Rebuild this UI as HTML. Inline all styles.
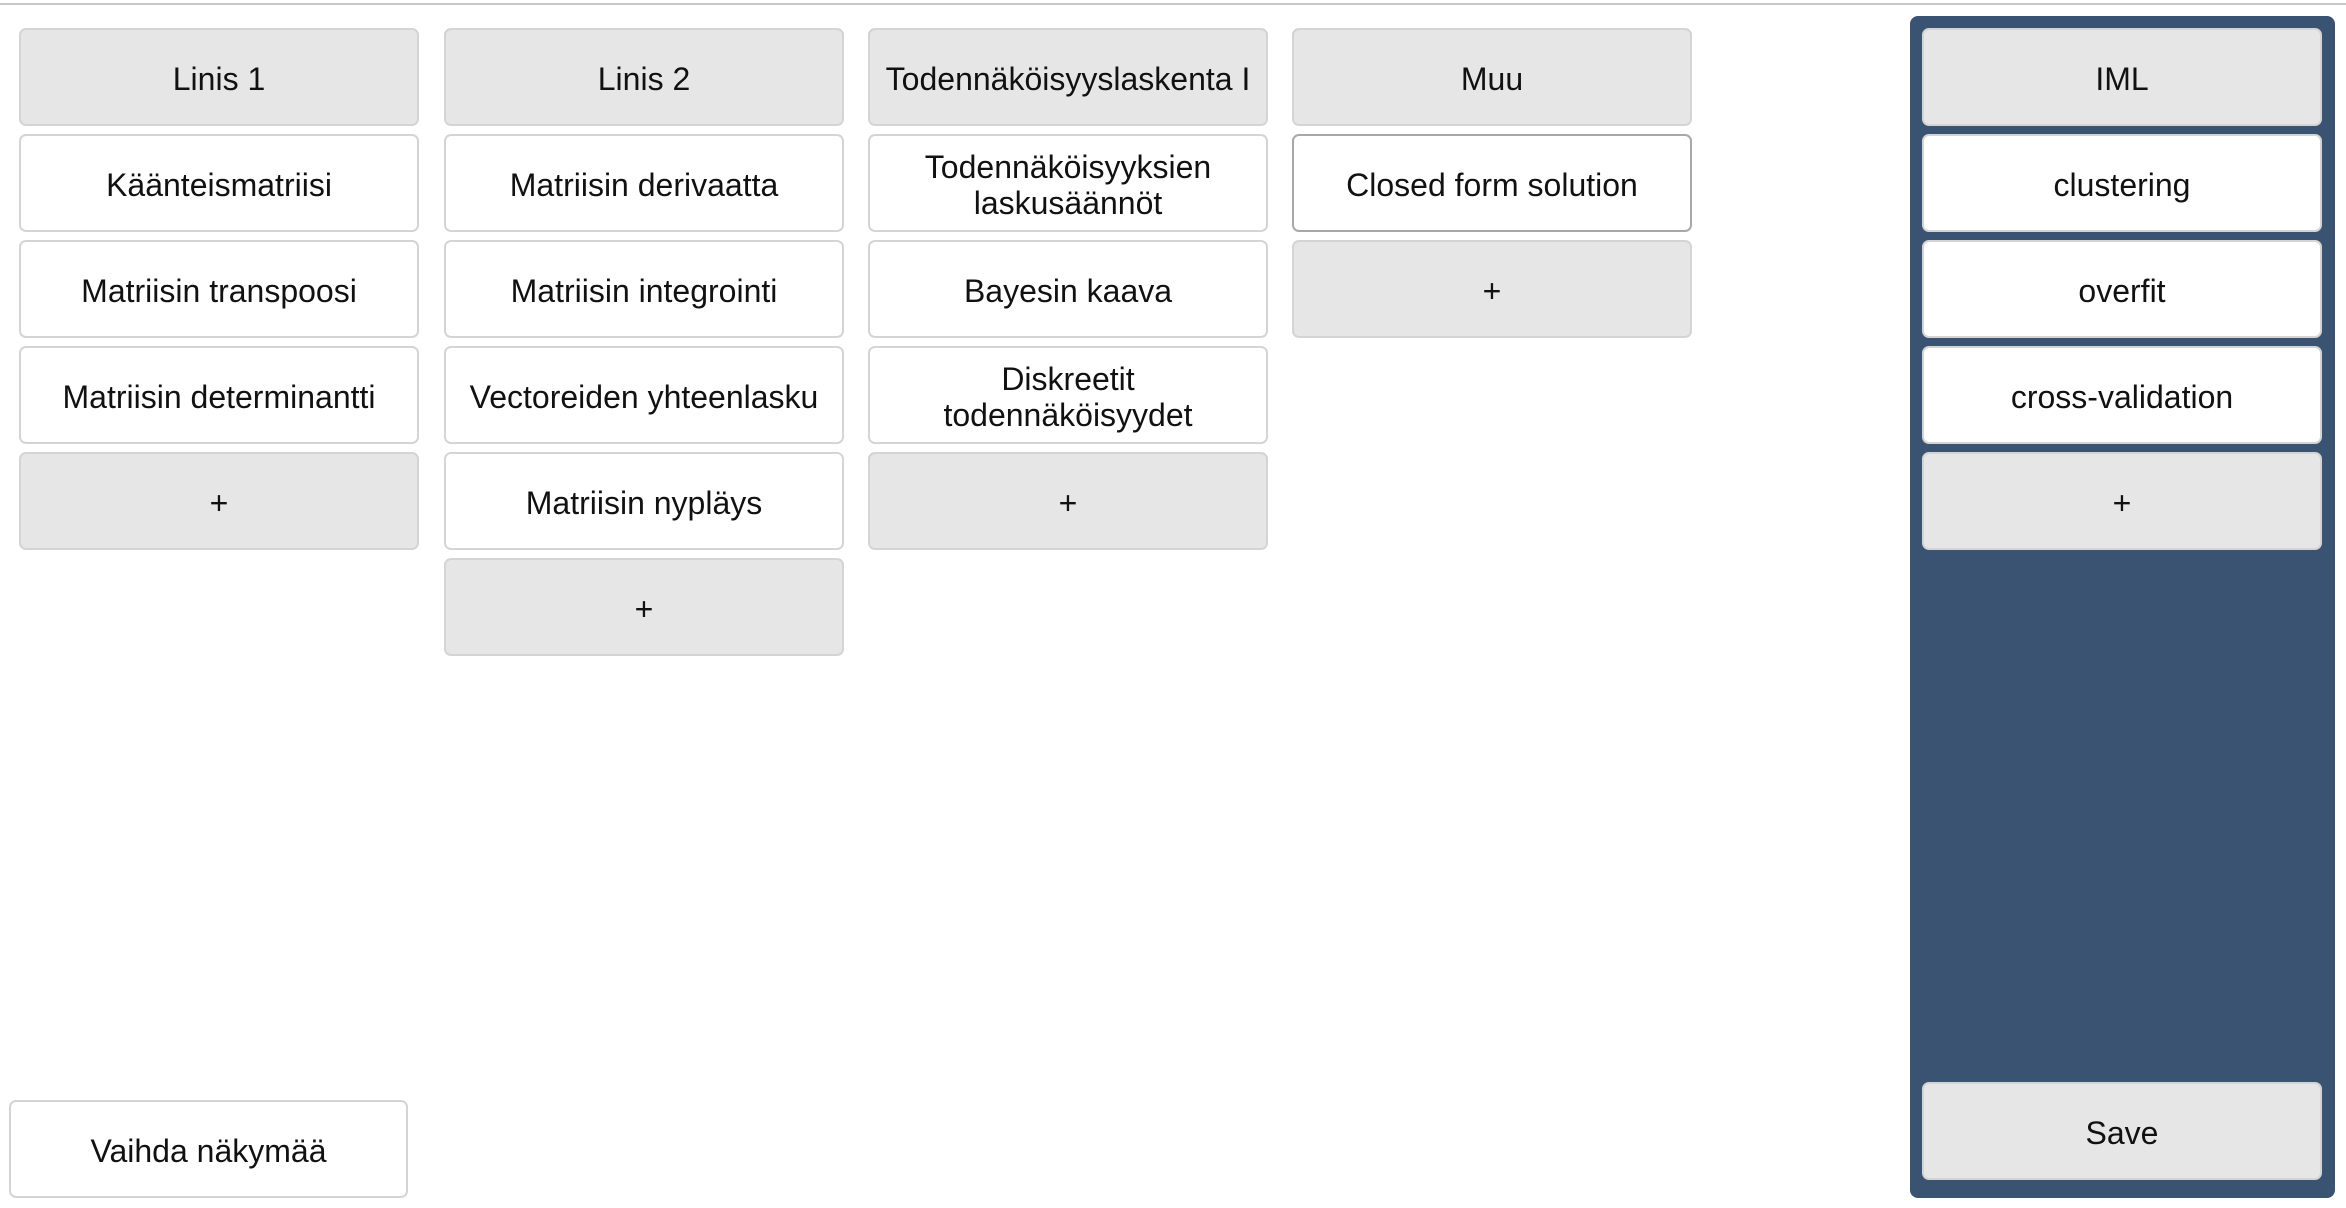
<!DOCTYPE html>
<html><head><meta charset="utf-8"><style>
*{box-sizing:border-box;margin:0;padding:0}
body{width:2346px;height:1208px;background:#fff;position:relative;overflow:hidden;font-family:"Liberation Sans",sans-serif;}
.line{position:absolute;left:0;top:3px;width:2346px;height:2px;background:#c8c8c8}
.b{position:absolute;width:400px;height:98px;border:2px solid #d4d4d4;border-radius:7px;background:#fff;display:flex;align-items:center;justify-content:center;text-align:center;font-size:32px;color:#111;line-height:1.12;padding-top:6px}
.g{background:#e6e6e6}
.panel{position:absolute;left:1910px;top:16px;width:425px;height:1182px;background:#3a5372;border-radius:8px}
</style></head><body>
<div class="line"></div>
<div class="b g" style="left:19px;top:28px">Linis 1</div>
<div class="b" style="left:19px;top:134px">Käänteismatriisi</div>
<div class="b" style="left:19px;top:240px">Matriisin transpoosi</div>
<div class="b" style="left:19px;top:346px">Matriisin determinantti</div>
<div class="b g" style="left:19px;top:452px">+</div>

<div class="b g" style="left:444px;top:28px">Linis 2</div>
<div class="b" style="left:444px;top:134px">Matriisin derivaatta</div>
<div class="b" style="left:444px;top:240px">Matriisin integrointi</div>
<div class="b" style="left:444px;top:346px">Vectoreiden yhteenlasku</div>
<div class="b" style="left:444px;top:452px">Matriisin nypläys</div>
<div class="b g" style="left:444px;top:558px">+</div>

<div class="b g" style="left:868px;top:28px">Todennäköisyyslaskenta I</div>
<div class="b" style="left:868px;top:134px">Todennäköisyyksien<br>laskusäännöt</div>
<div class="b" style="left:868px;top:240px">Bayesin kaava</div>
<div class="b" style="left:868px;top:346px">Diskreetit<br>todennäköisyydet</div>
<div class="b g" style="left:868px;top:452px">+</div>

<div class="b g" style="left:1292px;top:28px">Muu</div>
<div class="b" style="left:1292px;top:134px;border-color:#a8a8a8">Closed form solution</div>
<div class="b g" style="left:1292px;top:240px">+</div>

<div class="panel"></div>
<div class="b g" style="left:1922px;top:28px">IML</div>
<div class="b" style="left:1922px;top:134px">clustering</div>
<div class="b" style="left:1922px;top:240px">overfit</div>
<div class="b" style="left:1922px;top:346px">cross-validation</div>
<div class="b g" style="left:1922px;top:452px">+</div>
<div class="b g" style="left:1922px;top:1082px">Save</div>

<div class="b" style="left:9px;top:1100px;width:399px">Vaihda näkymää</div>
</body></html>
